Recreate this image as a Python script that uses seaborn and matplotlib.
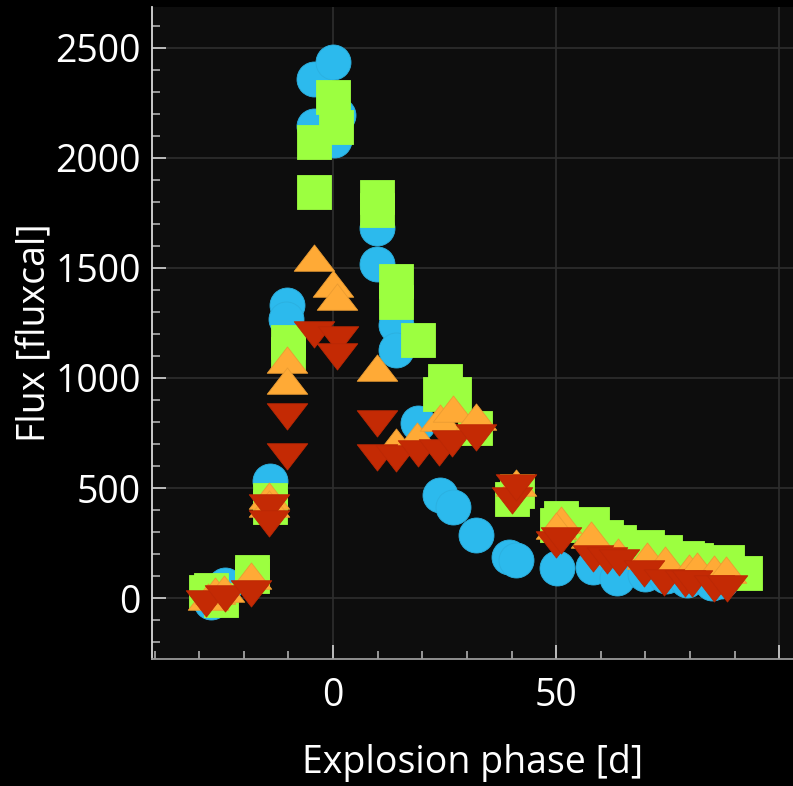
import matplotlib
matplotlib.use("Agg")
import matplotlib.pyplot as plt
from matplotlib.path import Path
from matplotlib.ticker import MultipleLocator, FixedLocator, FixedFormatter
import numpy as np
import pandas as pd
import seaborn as sns

# Light curve of a transient: flux per passband vs. days since explosion
band_names = ["blue", "green", "orange", "red"]

blue_phase = [-27.3, -24.3, -14.2, -10.3, -10.5, -4.3, -4.3, 0.0, 1.0, 0.2,
              9.9, 9.9, 14.0, 14.0, 19.0, 24.0, 26.8, 32.0, 39.5, 41.0,
              50.2, 58.3, 63.7, 70.0, 74.6, 79.3, 85.0, 87.0]
blue_flux = [-17, 59, 532, 1332, 1270, 2358, 2147, 2438, 2195, 2082,
             1682, 1517, 1241, 1127, 795, 468, 414, 286, 185, 172,
             135, 142, 90, 110, 98, 80, 70, 78]

green_phase = [-28.4, -27.3, -25.2, -18.2, -18.2, -14.2, -14.2, -10.1, -10.1,
               -4.3, -4.3, 0.0, 0.6, 9.9, 9.9, 14.0, 14.0, 19.1, 25.0, 23.9,
               27.0, 31.9, 41.2, 40.1, 51.2, 50.1, 58.1, 61.2, 64.2, 70.3,
               74.4, 79.3, 81.4, 88.3, 92.4]
green_flux = [27, 36, -9, 118, 98, 445, 415, 1164, 1110,
              2073, 1845, 2277, 2142, 1823, 1764, 1441, 1345, 1173, 988, 929,
              929, 773, 488, 451, 364, 333, 336, 276, 253, 230,
              211, 180, 173, 166, 116]

orange_phase = [-28.0, -26.5, -24.5, -18.3, -14.3, -14.3, -10.3, -10.3, -4.3,
                0.0, 0.8, 9.8, 14.0, 18.8, 24.0, 26.9, 32.0, 41.1, 51.1, 50.0,
                57.9, 63.9, 70.3, 74.3, 79.7, 81.5, 85.3, 88.0]
orange_flux = [-12, 15, 25, 82, 445, 410, 1063, 966, 1528,
               1411, 1350, 1025, 692, 718, 800, 843, 806, 505, 336, 310,
               268, 191, 173, 154, 120, 126, 116, 108]

red_phase = [-28.4, -24.3, -18.3, -14.3, -14.3, -10.3, -10.3, -4.3, 1.0, 0.8,
             9.8, 9.8, 14.0, 19.0, 23.7, 26.7, 32.0, 40.0, 41.0, 50.0, 51.1,
             58.3, 61.5, 64.0, 69.8, 74.2, 78.9, 80.4, 85.3, 88.3]
red_flux = [-5, 17, 43, 431, 358, 846, 664, 1218, 1195, 1120,
            813, 659, 655, 677, 684, 722, 752, 466, 524, 265, 280,
            200, 192, 180, 134, 93, 86, 86, 63, 63]

x_ticks = [0, 50, 100]
x_tick_labels = ["0", "50", ""]
y_ticks = [0, 500, 1000, 1500, 2000, 2500]
y_tick_labels = ["0", "500", "1000", "1500", "2000", "2500"]

df = pd.concat([
    pd.DataFrame({"phase": blue_phase, "flux": blue_flux, "band": "blue"}),
    pd.DataFrame({"phase": green_phase, "flux": green_flux, "band": "green"}),
    pd.DataFrame({"phase": orange_phase, "flux": orange_flux, "band": "orange"}),
    pd.DataFrame({"phase": red_phase, "flux": red_flux, "band": "red"}),
], ignore_index=True)

# wide, flat triangles (width : height = 2.31 : 1.5)
tri_up = Path([(0, 1.0), (-1.155, -0.5), (1.155, -0.5), (0, 1.0)],
              [Path.MOVETO, Path.LINETO, Path.LINETO, Path.CLOSEPOLY])
tri_down = Path([(0, -1.0), (-1.155, 0.5), (1.155, 0.5), (0, -1.0)],
                [Path.MOVETO, Path.LINETO, Path.LINETO, Path.CLOSEPOLY])

styles = {
    "blue":   dict(color="#2cbaed", edge="#2bb0e0", marker="o", s=635),
    "green":  dict(color="#9cff40", edge="#9cff40", marker="s", s=635),
    "orange": dict(color="#ffaa36", edge="#eb9c32", marker=tri_up, s=850),
    "red":    dict(color="#c42a04", edge="#bb2804", marker=tri_down, s=850),
}

sns.set_theme(style="dark")
plt.rcParams["font.family"] = ["Open Sans", "DejaVu Sans"]

fig = plt.figure(figsize=(7.93, 7.86), dpi=100, facecolor="black")
W, H = 793, 786
ax = fig.add_axes([152 / W, (H - 659) / H, (W - 152) / W, (659 - 7) / H])
ax.set_facecolor("#0d0d0d")

for z, band in enumerate(band_names):
    st = styles[band]
    sns.scatterplot(data=df[df["band"] == band], x="phase", y="flux",
                    marker=st["marker"], s=st["s"], color=st["color"],
                    edgecolor=st["edge"], linewidth=0.6, ax=ax,
                    zorder=3 + z, legend=False)

ax.set_xlim(-40.6, 103.1)
ax.set_ylim(-277, 2686)

ax.xaxis.set_major_locator(FixedLocator(x_ticks))
ax.xaxis.set_major_formatter(FixedFormatter(x_tick_labels))
ax.yaxis.set_major_locator(FixedLocator(y_ticks))
ax.yaxis.set_major_formatter(FixedFormatter(y_tick_labels))
ax.xaxis.set_minor_locator(MultipleLocator(10))
ax.yaxis.set_minor_locator(MultipleLocator(100))

ax.grid(True, which="major", color="#2e2e2e", linewidth=1.2)
ax.grid(False, which="minor")
ax.set_axisbelow(True)

for side in ["top", "right"]:
    ax.spines[side].set_visible(False)
ax.spines["left"].set_color("#d8d8d8")
ax.spines["bottom"].set_color("#9a9a9a")
ax.spines["left"].set_linewidth(1.3)
ax.spines["bottom"].set_linewidth(1.3)

ax.tick_params(which="major", direction="in", length=10, width=1.3,
               color="#c8c8c8", labelcolor="white", labelsize=27)
ax.tick_params(which="minor", direction="in", length=6, width=1.2,
               color="#b0b0b0")
ax.tick_params(axis="y", which="major", pad=8)
ax.tick_params(axis="x", which="major", pad=13)
ax.tick_params(left=True, bottom=True, which="both")

ax.set_xlabel("Explosion phase [d]", color="white", fontsize=27, labelpad=21)
ax.set_ylabel("Flux [fluxcal]", color="white", fontsize=27, labelpad=1)

fig.savefig("out.png", dpi=100, facecolor="black")
